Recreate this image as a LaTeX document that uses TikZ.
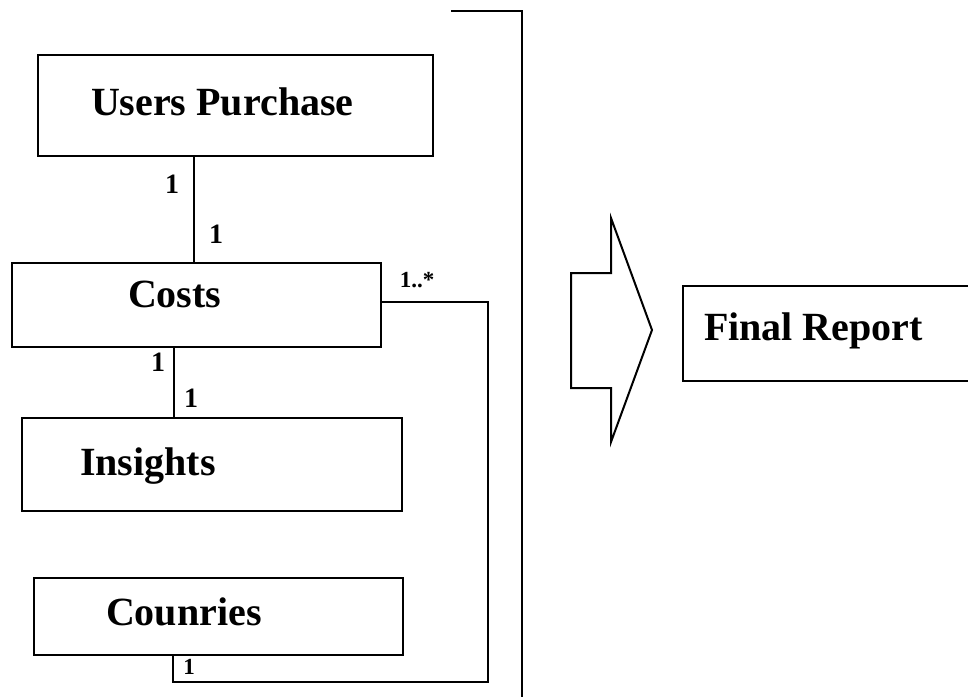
\documentclass[tikz,border=0pt]{standalone}
\usepackage{fontspec}
\setmainfont{Liberation Serif}
\begin{document}
\begin{tikzpicture}[x=1pt,y=-1pt,
  line width=2pt,
  box/.style={draw, rectangle, inner sep=0pt, outer sep=0pt},
  title/.style={inner sep=0pt, anchor=base west, font=\fontsize{40}{48}\selectfont\bfseries},
  mult/.style={inner sep=0pt, font=\fontsize{28}{30}\selectfont\bfseries},
  smallmult/.style={inner sep=0pt, font=\fontsize{23}{25}\selectfont\bfseries}]
\useasboundingbox (0,0) rectangle (968,697);

% class boxes
\node[box, minimum width=395pt, minimum height=101pt] (users) at (235.5,105.5) {};
\node[box, minimum width=369pt, minimum height=84pt] (costs) at (196.5,305) {};
\node[box, minimum width=380pt, minimum height=93pt] (insights) at (212,464.5) {};
\node[box, minimum width=369pt, minimum height=77pt] (countries) at (218.5,616.5) {};
\node[box, minimum width=300pt, minimum height=95pt] (report) at (833,333.5) {};

% box titles
\node[title] (tusers) at (90,115) {Users Purchase};
\node[title] (tcosts) at (127,307) {Costs};
\node[title] (tinsights) at (79,475) {Insights};
\node[title] (tcountries) at (105,625) {Counries};
\node[title] (treport) at (703,340) {Final Report};

% associations
\draw (users.south -| 194,0) -- (costs.north -| 194,0);
\draw (costs.south -| 174,0) -- (insights.north -| 174,0);
\coordinate (c1) at (488,302);
\coordinate (c2) at (488,682);
\coordinate (c3) at (173,682);
\draw (costs.east |- c1) -- (c1) -- (c2) -- (c3) -- (countries.south -| c3);

% multiplicities
\node[mult] (m1) at (172,184) {1};
\node[mult] (m2) at (216,234) {1};
\node[mult] (m3) at (158,362) {1};
\node[mult] (m4) at (191,398) {1};
\node[smallmult] (m5) at (417,280) {1..*};
\node[smallmult] (m6) at (189,667) {1};

% grouping bracket
\coordinate (b1) at (451,11);
\coordinate (b2) at (522,11);
\coordinate (b3) at (522,697);
\draw (b1) -- (b2) -- (b3);

% block arrow toward the report
\draw[line join=miter] (571,273) -- (611,273) -- (611,218) -- (652,330)
  -- (611,442) -- (611,388) -- (571,388) -- cycle;
\end{tikzpicture}
\end{document}
